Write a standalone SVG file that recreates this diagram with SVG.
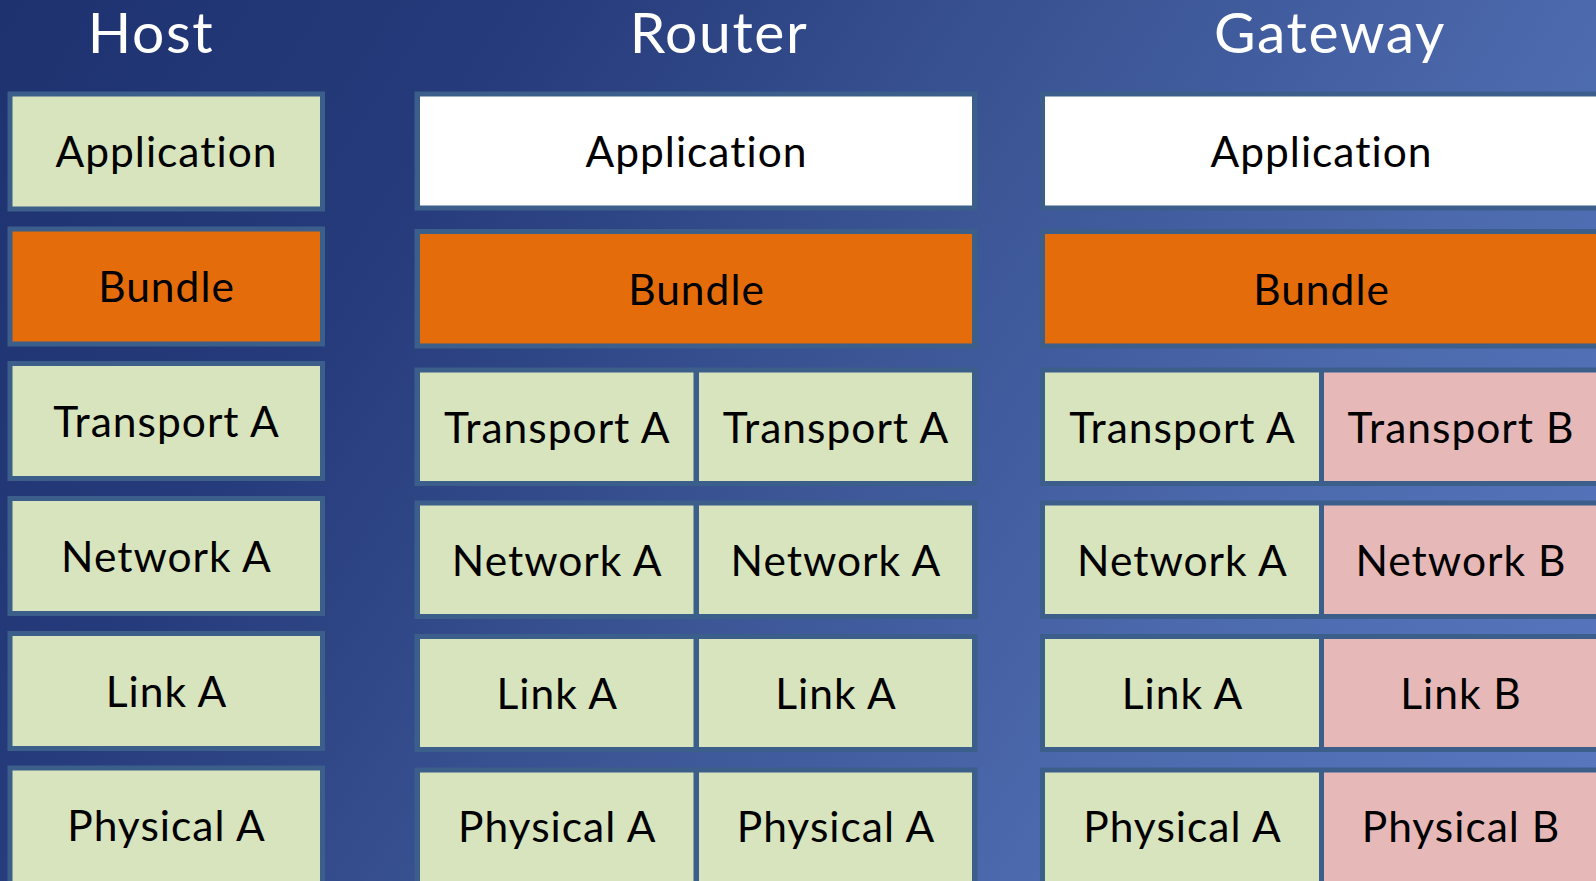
<svg xmlns="http://www.w3.org/2000/svg" width="1596" height="881" viewBox="0 0 1596 881">
  <defs>
    <linearGradient id="bg" gradientUnits="userSpaceOnUse" x1="0" y1="0" x2="1524" y2="991">
      <stop offset="0" stop-color="#1e3270"/>
      <stop offset="0.25" stop-color="#263b7b"/>
      <stop offset="0.45" stop-color="#37508f"/>
      <stop offset="0.73" stop-color="#4c69ad"/>
      <stop offset="1" stop-color="#5878c0"/>
    </linearGradient>
    <style>
      .frame { fill: #3b5e8b; }
      .green { fill: #d7e4bd; }
      .orange { fill: #e46c0a; }
      .white { fill: #ffffff; }
      .pink { fill: #e6b9b8; }
      .label { font-family: Lato, "Open Sans", "Liberation Sans", sans-serif; font-size: 42.5px; letter-spacing: 1px; text-anchor: middle; fill: #000000; }
      .title { font-family: Lato, "Open Sans", "Liberation Sans", sans-serif; font-size: 57px; letter-spacing: 1.6px; text-anchor: middle; fill: #ffffff; }
    </style>
  </defs>

  <rect x="0" y="0" width="1596" height="881" fill="url(#bg)"/>

  <!-- column headings -->
  <g id="titles">
    <text class="title" x="151" y="53">Host</text>
    <text class="title" x="719" y="53">Router</text>
    <text class="title" x="1330" y="53">Gateway</text>
  </g>

  <!-- Host stack: single cell per layer -->
  <g id="host">
    <g id="host-application">
      <rect class="frame" x="7.5" y="91.5" width="317.5" height="120"/>
      <rect class="green" x="12.5" y="96.5" width="307.5" height="110"/>
      <text class="label" x="166.5" y="167">Application</text>
    </g>
    <g id="host-bundle">
      <rect class="frame" x="7.5" y="226.5" width="317.5" height="120"/>
      <rect class="orange" x="12.5" y="231.5" width="307.5" height="110"/>
      <text class="label" x="166.5" y="302">Bundle</text>
    </g>
    <g id="host-transport">
      <rect class="frame" x="7.5" y="361" width="317.5" height="120"/>
      <rect class="green" x="12.5" y="366" width="307.5" height="110"/>
      <text class="label" x="166.5" y="436.5">Transport A</text>
    </g>
    <g id="host-network">
      <rect class="frame" x="7.5" y="496" width="317.5" height="120"/>
      <rect class="green" x="12.5" y="501" width="307.5" height="110"/>
      <text class="label" x="166.5" y="571.5">Network A</text>
    </g>
    <g id="host-link">
      <rect class="frame" x="7.5" y="631" width="317.5" height="120"/>
      <rect class="green" x="12.5" y="636" width="307.5" height="110"/>
      <text class="label" x="166.5" y="706.5">Link A</text>
    </g>
    <g id="host-physical">
      <rect class="frame" x="7.5" y="765.5" width="317.5" height="120"/>
      <rect class="green" x="12.5" y="770.5" width="307.5" height="115"/>
      <text class="label" x="166.5" y="841">Physical A</text>
    </g>
  </g>

  <!-- Router stack: shared upper layers, two lower stacks -->
  <g id="router">
    <g id="router-application">
      <rect class="frame" x="414.5" y="91.5" width="563" height="119"/>
      <rect class="white" x="420" y="96.5" width="552" height="109"/>
      <text class="label" x="696.5" y="166.5">Application</text>
    </g>
    <g id="router-bundle">
      <rect class="frame" x="414.5" y="229" width="563" height="119.5"/>
      <rect class="orange" x="420" y="234" width="552" height="109.5"/>
      <text class="label" x="696.5" y="304.5">Bundle</text>
    </g>
    <g id="router-transport">
      <rect class="frame" x="414.5" y="367.5" width="563" height="118.5"/>
      <rect class="green" x="420" y="372.5" width="273.5" height="108.5"/>
      <rect class="green" x="699" y="372.5" width="273" height="108.5"/>
      <text class="label" x="557.25" y="442.5">Transport A</text>
      <text class="label" x="836" y="442.5">Transport A</text>
    </g>
    <g id="router-network">
      <rect class="frame" x="414.5" y="500.5" width="563" height="118.5"/>
      <rect class="green" x="420" y="505.5" width="273.5" height="108.5"/>
      <rect class="green" x="699" y="505.5" width="273" height="108.5"/>
      <text class="label" x="557.25" y="575.5">Network A</text>
      <text class="label" x="836" y="575.5">Network A</text>
    </g>
    <g id="router-link">
      <rect class="frame" x="414.5" y="634" width="563" height="118"/>
      <rect class="green" x="420" y="639" width="273.5" height="108"/>
      <rect class="green" x="699" y="639" width="273" height="108"/>
      <text class="label" x="557.25" y="708.5">Link A</text>
      <text class="label" x="836" y="708.5">Link A</text>
    </g>
    <g id="router-physical">
      <rect class="frame" x="414.5" y="767.5" width="563" height="118"/>
      <rect class="green" x="420" y="772.5" width="273.5" height="113"/>
      <rect class="green" x="699" y="772.5" width="273" height="113"/>
      <text class="label" x="557.25" y="842">Physical A</text>
      <text class="label" x="836" y="842">Physical A</text>
    </g>
  </g>

  <!-- Gateway stack: A on the left, B on the right -->
  <g id="gateway">
    <g id="gateway-application">
      <rect class="frame" x="1040" y="91.5" width="570" height="119"/>
      <rect class="white" x="1045" y="96.5" width="560" height="109"/>
      <text class="label" x="1321.5" y="166.5">Application</text>
    </g>
    <g id="gateway-bundle">
      <rect class="frame" x="1040" y="229" width="570" height="119.5"/>
      <rect class="orange" x="1045" y="234" width="560" height="109.5"/>
      <text class="label" x="1321.5" y="304.5">Bundle</text>
    </g>
    <g id="gateway-transport">
      <rect class="frame" x="1040" y="367.5" width="570" height="118.5"/>
      <rect class="green" x="1045" y="372.5" width="274" height="108.5"/>
      <rect class="pink" x="1324" y="372.5" width="280" height="108.5"/>
      <text class="label" x="1182.5" y="442.5">Transport A</text>
      <text class="label" x="1461" y="442.5">Transport B</text>
    </g>
    <g id="gateway-network">
      <rect class="frame" x="1040" y="500.5" width="570" height="118.5"/>
      <rect class="green" x="1045" y="505.5" width="274" height="108.5"/>
      <rect class="pink" x="1324" y="505.5" width="280" height="108.5"/>
      <text class="label" x="1182.5" y="575.5">Network A</text>
      <text class="label" x="1461" y="575.5">Network B</text>
    </g>
    <g id="gateway-link">
      <rect class="frame" x="1040" y="634" width="570" height="118"/>
      <rect class="green" x="1045" y="639" width="274" height="108"/>
      <rect class="pink" x="1324" y="639" width="280" height="108"/>
      <text class="label" x="1182.5" y="708.5">Link A</text>
      <text class="label" x="1461" y="708.5">Link B</text>
    </g>
    <g id="gateway-physical">
      <rect class="frame" x="1040" y="767.5" width="570" height="118"/>
      <rect class="green" x="1045" y="772.5" width="274" height="113"/>
      <rect class="pink" x="1324" y="772.5" width="280" height="113"/>
      <text class="label" x="1182.5" y="842">Physical A</text>
      <text class="label" x="1461" y="842">Physical B</text>
    </g>
  </g>
</svg>
